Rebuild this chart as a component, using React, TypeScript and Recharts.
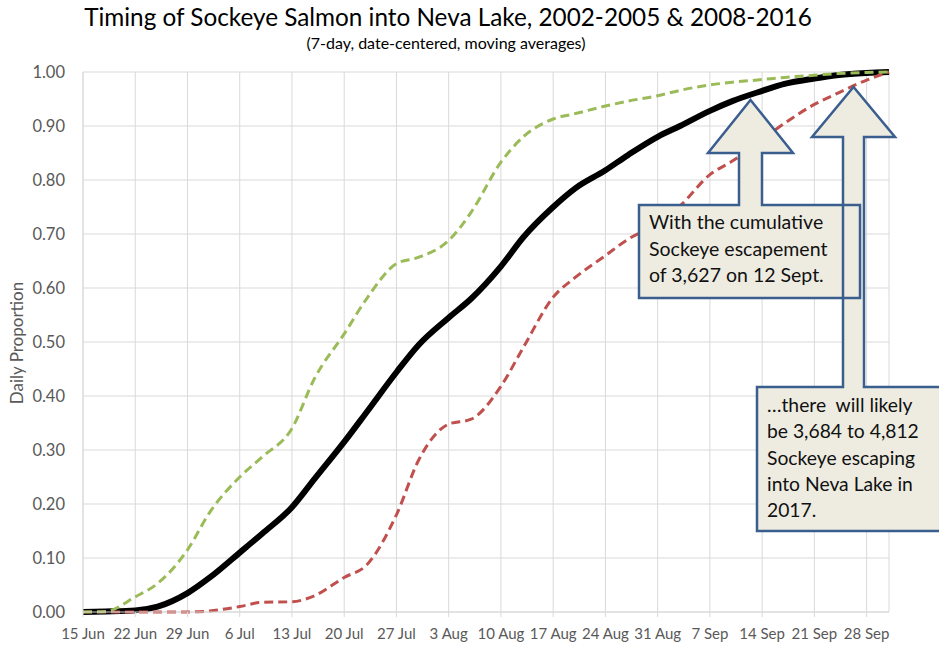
import { LineChart, Line, XAxis, YAxis, CartesianGrid } from "recharts";

// day offsets from 15 Jun
const DAYS = [0, 3, 7, 10, 14, 17, 21, 24, 28, 31, 35, 38, 42, 45, 49, 52, 56, 59, 63, 66, 70, 73, 77, 80, 84, 87, 91, 94, 98, 101, 105, 108];

const AVERAGE = [0, 0.001, 0.003, 0.01, 0.035, 0.064, 0.11, 0.145, 0.194, 0.246, 0.315, 0.37, 0.444, 0.495, 0.545, 0.58, 0.64, 0.694, 0.75, 0.785, 0.818, 0.846, 0.88, 0.9, 0.928, 0.946, 0.965, 0.978, 0.988, 0.994, 0.998, 1.0];
const EARLY = [0, 0.001, 0.028, 0.053, 0.115, 0.185, 0.25, 0.287, 0.34, 0.432, 0.515, 0.58, 0.645, 0.657, 0.688, 0.74, 0.833, 0.88, 0.913, 0.923, 0.937, 0.946, 0.956, 0.966, 0.976, 0.981, 0.986, 0.99, 0.994, 0.997, 0.999, 1.0];
const LATE = [0, 0, 0, 0, 0, 0.002, 0.01, 0.018, 0.019, 0.03, 0.064, 0.087, 0.18, 0.282, 0.348, 0.357, 0.418, 0.49, 0.583, 0.62, 0.66, 0.69, 0.72, 0.752, 0.81, 0.835, 0.875, 0.905, 0.94, 0.96, 0.985, 1.0];

const TICK_DAYS = [0, 7, 14, 21, 28, 35, 42, 49, 56, 63, 70, 77, 84, 91, 98, 105];
const TICK_LABELS = ["15 Jun", "22 Jun", "29 Jun", "6 Jul", "13 Jul", "20 Jul", "27 Jul", "3 Aug", "10 Aug", "17 Aug", "24 Aug", "31 Aug", "7 Sep", "14 Sep", "21 Sep", "28 Sep"];
const Y_TICKS = [0, 0.1, 0.2, 0.3, 0.4, 0.5, 0.6, 0.7, 0.8, 0.9, 1.0];

const CALLOUT_1 = ["With the cumulative", "Sockeye escapement", "of 3,627 on 12 Sept."];
const CALLOUT_2 = ["\u2026there  will likely", "be 3,684 to 4,812", "Sockeye escaping", "into Neva Lake in", "2017."];

const FONT = "Lato, 'Open Sans', sans-serif";
const GRID = "#D9D9D9";
const TEXT = "#595959";

const data = DAYS.map((day, i) => ({
  day,
  avg: AVERAGE[i],
  early: EARLY[i],
  late: LATE[i],
}));

const callout1 = "M639,205 L739,205 L739,153 L708,153 L750.5,100 L793,153 L762,153 L762,205 L860,205 L860,298 L639,298 Z";
const callout2 = "M757,387 L843,387 L843,137 L812,137 L853.5,87 L895,137 L864,137 L864,387 L945,387 L945,531 L757,531 Z";

export default function App() {
  return (
    <div style={{ position: "absolute", left: 0, top: 0, width: 939, height: 645, background: "#fff", fontFamily: FONT }}>
      <LineChart width={939} height={645} data={data} margin={{ top: 72, right: 50, bottom: 0, left: 0 }}>
        <CartesianGrid stroke={GRID} strokeWidth={1} />
        <XAxis
          dataKey="day"
          type="number"
          domain={[0, 108]}
          ticks={TICK_DAYS}
          tickFormatter={(d: number) => TICK_LABELS[TICK_DAYS.indexOf(d)]}
          interval={0}
          height={33}
          stroke={GRID}
          tickSize={5}
          tickMargin={11}
          tick={{ fill: TEXT, fontSize: 15, fontFamily: FONT }}
        />
        <YAxis
          type="number"
          domain={[0, 1]}
          ticks={Y_TICKS}
          tickFormatter={(v: number) => v.toFixed(2)}
          width={83}
          stroke={GRID}
          tickLine={false}
          tickSize={0}
          tickMargin={18}
          tick={{ fill: TEXT, fontSize: 16.5, fontFamily: FONT }}
        />
        <Line dataKey="avg" type="monotone" stroke="#000" strokeWidth={6} dot={false} activeDot={false} isAnimationActive={false} />
        <Line dataKey="late" type="monotone" stroke="#C0504D" strokeWidth={3} strokeDasharray="9 5" dot={false} activeDot={false} isAnimationActive={false} />
        <Line dataKey="early" type="monotone" stroke="#9BBB59" strokeWidth={3} strokeDasharray="9 5" dot={false} activeDot={false} isAnimationActive={false} />
      </LineChart>
      <svg width={939} height={645} style={{ position: "absolute", left: 0, top: 0, pointerEvents: "none" }}>
        <text x={448} y={26} textAnchor="middle" fontSize={24.3} fill="#000" fontFamily={FONT}>
          Timing of Sockeye Salmon into Neva Lake, 2002-2005 &amp; 2008-2016
        </text>
        <text x={446} y={49} textAnchor="middle" fontSize={16} fill="#000" fontFamily={FONT}>
          (7-day, date-centered, moving averages)
        </text>
        <text
          x={0}
          y={0}
          transform="translate(23,343) rotate(-90)"
          textAnchor="middle"
          fontSize={17}
          fill={TEXT}
          fontFamily={FONT}
        >
          Daily Proportion
        </text>
        <path d={callout2} fill="#EEECE1" stroke="#3A5E8E" strokeWidth={2.5} strokeLinejoin="miter" />
        <path d={callout1} fill="#EEECE1" stroke="#3A5E8E" strokeWidth={2.5} strokeLinejoin="miter" />
        <line x1={843} y1={205} x2={843} y2={298} stroke="#3A5E8E" strokeWidth={2.5} />
        {CALLOUT_1.map((t, i) => (
          <text key={i} x={649} y={229 + i * 26.5} fontSize={19.5} fill="#111" fontFamily={FONT}>
            {t}
          </text>
        ))}
        {CALLOUT_2.map((t, i) => (
          <text key={i} x={767} y={412 + i * 26.3} fontSize={19.3} fill="#111" fontFamily={FONT} style={{ whiteSpace: "pre" }}>
            {t}
          </text>
        ))}
      </svg>
    </div>
  );
}
